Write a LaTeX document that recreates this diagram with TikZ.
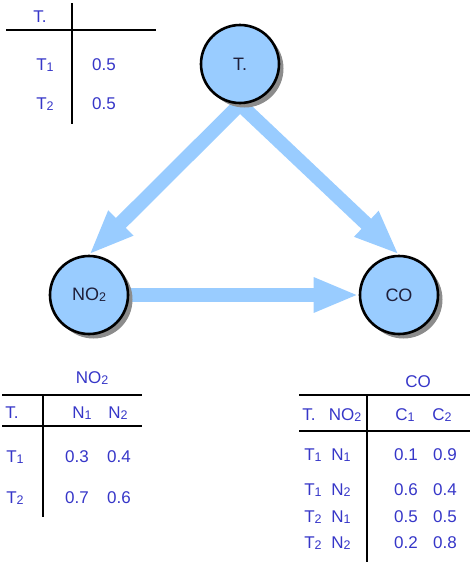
\documentclass[tikz,border=0pt]{standalone}
\usepackage{fontspec}
\setmainfont{Liberation Sans}
\usepackage{xcolor}
\usepackage{tikz}
\usetikzlibrary{arrows.meta,backgrounds,positioning,shadows,shapes}
\definecolor{netblue}{HTML}{99CCFF}
\definecolor{cptblue}{HTML}{3636C8}
\definecolor{varink}{HTML}{1F1F3A}
\newcommand{\lsub}[1]{\raisebox{-1pt}{\fontsize{12.5}{13}\selectfont #1}}

\begin{document}
\begin{tikzpicture}[x=1pt,y=-1pt]

\tikzset{var/.style = {shape=circle,draw,line width=2.6pt,fill=netblue,minimum size=78pt,inner sep=0pt,
  text=varink,font=\fontsize{18}{20}\selectfont,
  drop shadow={shadow xshift=4.5pt,shadow yshift=-4.5pt,fill=black!45,opacity=1}}}
\tikzset{link/.style = {-{Triangle[width=32pt,length=45pt]},line width=14pt,draw=netblue}}
\tikzset{cpt/.style = {text=cptblue,font=\fontsize{17}{19}\selectfont,inner sep=0pt,anchor=base}}
\tikzset{rule/.style = {line width=2.8pt}}

\useasboundingbox (0,0) rectangle (474,566);

% vertices
\node[var] (vT) at (240,64) {T.};
\node[var] (vN) at (89,295) {NO\lsub{2}};
\node[var] (vC) at (399,295) {CO};

%edges
\begin{scope}[on background layer]
\draw[link] (vT.south) to (vN.north);
\draw[link] (vT.south) to (vC.north);
\draw[link] (vN.east) to (vC.west);
\end{scope}

% table T.
\draw[rule] (6,30) -- (156,30);
\draw[rule] (72,3) -- (72,124);
\node[cpt] (tHead) at (40,22.5) {T.};
\node[cpt] (tR1) at (45,70) {T\lsub{1}};
\node[cpt] (tV1) at (104,70) {0.5};
\node[cpt] (tR2) at (45,109) {T\lsub{2}};
\node[cpt] (tV2) at (104,109) {0.5};

% table NO2
\node[cpt] (nTitle) at (92,383) {NO\lsub{2}};
\draw[rule] (2,395) -- (142,395);
\draw[rule] (2,426) -- (142,426);
\draw[rule] (43,395) -- (43,517);
\node[cpt] (nHead) at (12,418) {T.};
\node[cpt] (nC1) at (82,418) {N\lsub{1}};
\node[cpt] (nC2) at (118,418) {N\lsub{2}};
\node[cpt] (nR1) at (15,462) {T\lsub{1}};
\node[cpt] (nV11) at (77,462) {0.3};
\node[cpt] (nV12) at (119,462) {0.4};
\node[cpt] (nR2) at (15,503) {T\lsub{2}};
\node[cpt] (nV21) at (77,503) {0.7};
\node[cpt] (nV22) at (119,503) {0.6};

% table CO
\node[cpt] (cTitle) at (418,387) {CO};
\draw[rule] (299,395) -- (470,395);
\draw[rule] (299,431) -- (470,431);
\draw[rule] (367,395) -- (367,562);
\node[cpt] (cHeadT) at (309,420) {T.};
\node[cpt] (cHeadN) at (345,420) {NO\lsub{2}};
\node[cpt] (cC1) at (405,420) {C\lsub{1}};
\node[cpt] (cC2) at (442,420) {C\lsub{2}};
\foreach \y/\t/\n/\a/\b [count=\i] in {460/1/1/0.1/0.9, 495/1/2/0.6/0.4, 522/2/1/0.5/0.5, 548/2/2/0.2/0.8}{
  \node[cpt] (cT\i) at (313,\y) {T\lsub{\t}};
  \node[cpt] (cN\i) at (341,\y) {N\lsub{\n}};
  \node[cpt] (cA\i) at (406,\y) {\a};
  \node[cpt] (cB\i) at (445,\y) {\b};
}
\end{tikzpicture}
\end{document}
